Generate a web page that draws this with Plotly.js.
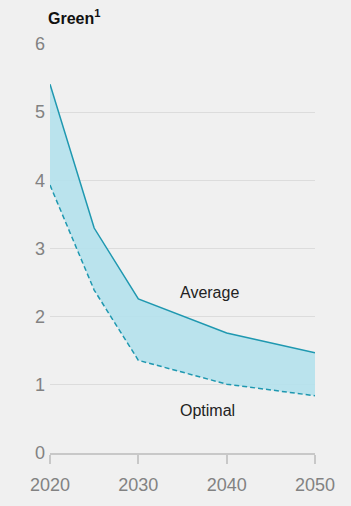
<!DOCTYPE html>
<html>
<head>
<meta charset="utf-8">
<script src="https://cdn.plot.ly/plotly-3.0.1.min.js"></script>
<style>
html,body{margin:0;padding:0;background:#f0f0f0;}
#chart{width:351px;height:506px;}
</style>
</head>
<body>
<div id="chart"></div>
<script>
const years = [2020, 2025, 2030, 2040, 2050];
const average = [5.41, 3.30, 2.26, 1.76, 1.47];
const optimal = [3.93, 2.39, 1.36, 1.01, 0.84];
const xTicks = [2020, 2030, 2040, 2050];
const yTicks = [0, 1, 2, 3, 4, 5, 6];
const titleText = 'Green<sup>1</sup>';
const labelAverage = 'Average';
const labelOptimal = 'Optimal';

const lineColor = '#1f98b0';
const fillColor = 'rgba(180,225,236,0.9)';
const font = '"Liberation Sans", Arial, sans-serif';

const data = [
  {x: years, y: optimal, type: 'scatter', mode: 'lines',
   line: {color: lineColor, width: 1.5, dash: '5px,3px'}, hoverinfo: 'skip'},
  {x: years, y: average, type: 'scatter', mode: 'lines', fill: 'tonexty',
   fillcolor: fillColor, line: {color: lineColor, width: 1.5}, hoverinfo: 'skip'}
];

const layout = {
  width: 351, height: 506,
  paper_bgcolor: '#f0f0f0', plot_bgcolor: '#f0f0f0',
  margin: {l: 50, r: 36, t: 44, b: 53},
  showlegend: false,
  font: {family: font},
  title: {text: titleText, x: 48/351, xanchor: 'left', xref: 'container',
          y: 1 - 18/506, yanchor: 'middle', yref: 'container',
          font: {family: font, size: 16, color: '#111', weight: 'bold'}},
  xaxis: {range: [2020, 2050], tickvals: xTicks, ticktext: xTicks.map(String),
          showgrid: false, zeroline: false, showline: true, linecolor: '#c8c8c8', linewidth: 2,
          ticks: 'outside', ticklen: 9, tickwidth: 2, tickcolor: '#c8c8c8', ticklabelstandoff: 5,
          tickfont: {family: font, size: 18, color: '#828282'}, fixedrange: true},
  yaxis: {range: [0, 6], tickvals: yTicks, ticktext: yTicks.map(String),
          showgrid: true, gridcolor: '#dcdcdc', gridwidth: 1, zeroline: false,
          showline: false, ticks: '', ticklabelstandoff: 4,
          tickfont: {family: font, size: 18, color: '#828282'}, fixedrange: true},
  annotations: [
    {text: labelAverage, x: 2034.45, y: 2.35, xref: 'x', yref: 'y', xanchor: 'left', yanchor: 'middle',
     showarrow: false, font: {family: font, size: 16, color: '#222'}},
    {text: labelOptimal, x: 2034.45, y: 0.63, xref: 'x', yref: 'y', xanchor: 'left', yanchor: 'middle',
     showarrow: false, font: {family: font, size: 16, color: '#222'}}
  ]
};

Plotly.newPlot('chart', data, layout, {displayModeBar: false, staticPlot: true});
</script>
</body>
</html>
